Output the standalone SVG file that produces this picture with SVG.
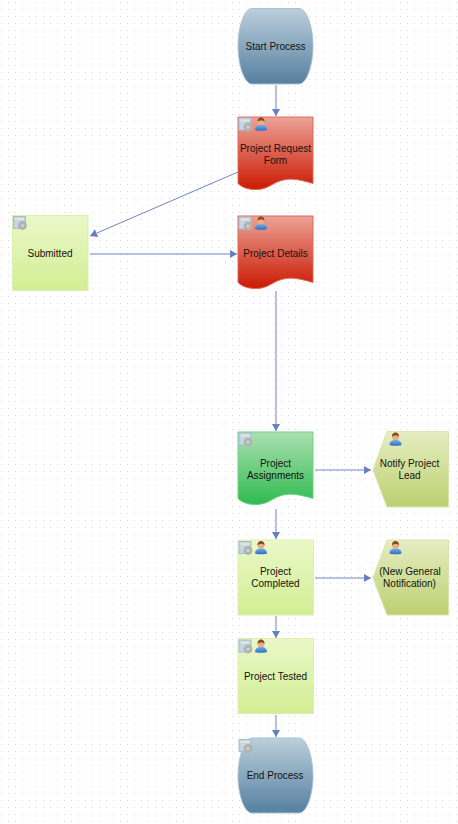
<svg xmlns="http://www.w3.org/2000/svg" width="458" height="824" viewBox="0 0 458 824">
<style>
text{font-family:"Liberation Sans",Arial,sans-serif;font-size:10px;fill:#111;text-anchor:middle}
.c{fill:none;stroke:#6f86c0;stroke-width:1;marker-end:url(#arr)}
</style>
<defs>
<pattern id="grid" width="7" height="7" patternUnits="userSpaceOnUse"><rect x="1" y="2" width="1" height="1" fill="#d9d9d9"/></pattern>
<marker id="arr" markerUnits="userSpaceOnUse" markerWidth="9" markerHeight="10" refX="7.500" refY="4.500" orient="auto"><path d="M0 0.200L7.500 4.500L0 8.800L0.800 4.500Z" fill="#6580c0"/></marker>
<linearGradient id="gB" x1="0" y1="0" x2="0" y2="1"><stop offset="0" stop-color="#bccfdc"/><stop offset="1" stop-color="#55809f"/></linearGradient>
<linearGradient id="gR" x1="0" y1="0" x2="0" y2="1"><stop offset="0" stop-color="#eca397"/><stop offset="1" stop-color="#cb1a02"/></linearGradient>
<linearGradient id="gG" x1="0" y1="0" x2="0" y2="1"><stop offset="0" stop-color="#ace0b0"/><stop offset="1" stop-color="#2fbb50"/></linearGradient>
<linearGradient id="gL" x1="0" y1="0" x2="0" y2="1"><stop offset="0" stop-color="#eaf8c8"/><stop offset="1" stop-color="#d2ee93"/></linearGradient>
<linearGradient id="gO" x1="0" y1="0" x2="0" y2="1"><stop offset="0" stop-color="#e6edc2"/><stop offset="1" stop-color="#bdd070"/></linearGradient>
<linearGradient id="gP" x1="0" y1="0" x2="0" y2="1"><stop offset="0" stop-color="#6eb0ec"/><stop offset="1" stop-color="#2f6cc4"/></linearGradient>
<g id="wave">
<path d="M0 0H75V66.500C62 62.500 54 61.500 48 62.500C34 64.500 32 72.500 18 72.500C10 72.500 4 70.500 0 66.500Z"/>
</g>
<g id="svc">
<rect x="0.500" y="0.500" width="12" height="12" fill="#c5d5e4" stroke="#a3bbd8"/>
<rect x="2" y="2" width="9" height="2" fill="#dfeccb"/>
<circle cx="9.500" cy="9.500" r="4.400" fill="#b2b2b2"/>
<circle cx="9.500" cy="9.500" r="1.600" fill="#d4d4d4"/>
</g>
<g id="usr">
<path d="M0.500 13C0.500 10 2.500 8 6.500 8S12.500 10 12.500 13C12.500 14 0.500 14 0.500 13Z" fill="url(#gP)"/>
<circle cx="6.500" cy="4.800" r="3.500" fill="#e8ad85"/>
<path d="M3 4.800C2.800 1.500 5 0.500 6.500 0.500S10.200 1.500 10 4.800C8.500 3 5 3 3 4.800Z" fill="#8a4a22"/>
</g>
</defs>
<rect width="458" height="824" fill="#fff"/>
<rect width="458" height="824" fill="url(#grid)"/>
<g id="connectors">
<path class="c" d="M276 85V116"/>
<path class="c" d="M238 172L90 236"/>
<path class="c" d="M90 254H237"/>
<path class="c" d="M276 291V431"/>
<path class="c" d="M315 470H371"/>
<path class="c" d="M276 509V539"/>
<path class="c" d="M315 578H371"/>
<path class="c" d="M276 616V638"/>
<path class="c" d="M276 715V737"/>
</g>
<g id="start">
<path d="M252 8.500H299C307 8.500 313 28 313 46S307 84 299 84H252C244 84 238 64 238 46S244 8.500 252 8.500Z" fill="url(#gB)" stroke="#a9c1d6"/>
<text x="275.500" y="50">Start Process</text>
</g>
<g id="request">
<use href="#wave" x="238" y="117" fill="url(#gR)" stroke="#e0695a"/>
<use href="#svc" x="238.500" y="117.500"/><use href="#usr" x="254.500" y="117"/>
<text x="275.500" y="152">Project Request</text>
<text x="275.500" y="164">Form</text>
</g>
<g id="submitted">
<rect x="12.500" y="215.500" width="75.500" height="75" fill="url(#gL)" stroke="#dcefaf"/>
<use href="#svc" x="13" y="216"/>
<text x="50" y="257">Submitted</text>
</g>
<g id="details">
<use href="#wave" x="238" y="216" fill="url(#gR)" stroke="#e0695a"/>
<use href="#svc" x="238.500" y="216.500"/><use href="#usr" x="254.500" y="216"/>
<text x="275.500" y="257">Project Details</text>
</g>
<g id="assignments">
<use href="#wave" x="238" y="432" fill="url(#gG)" stroke="#6fd184"/>
<use href="#svc" x="238.500" y="432.500"/>
<text x="275.500" y="467">Project</text>
<text x="275.500" y="479">Assignments</text>
</g>
<g id="notify">
<path d="M387 431.500H448.500V507H387L373 470Z" fill="url(#gO)" stroke="#d9e5b0"/>
<use href="#usr" x="389" y="432"/>
<text x="409.500" y="467">Notify Project</text>
<text x="409.500" y="479">Lead</text>
</g>
<g id="completed">
<rect x="238" y="540" width="75.500" height="75" fill="url(#gL)" stroke="#dcefaf"/>
<use href="#svc" x="238.500" y="541"/><use href="#usr" x="254.500" y="540.500"/>
<text x="275.500" y="575">Project</text>
<text x="275.500" y="587">Completed</text>
</g>
<g id="general">
<path d="M387 540H448.500V615H387L373 578Z" fill="url(#gO)" stroke="#d9e5b0"/>
<use href="#usr" x="389" y="540.500"/>
<text x="410" y="575">(New General</text>
<text x="409.500" y="587">Notification)</text>
</g>
<g id="tested">
<rect x="238" y="638.500" width="75.500" height="75" fill="url(#gL)" stroke="#dcefaf"/>
<use href="#svc" x="238.500" y="639.500"/><use href="#usr" x="254.500" y="639"/>
<text x="275.500" y="680">Project Tested</text>
</g>
<g id="end">
<path d="M252 738H299C307 738 313 758 313 776S307 813 299 813H252C244 813 238 794 238 776S244 738 252 738Z" fill="url(#gB)" stroke="#a9c1d6"/>
<use href="#svc" x="238.500" y="739"/>
<text x="275" y="779">End Process</text>
</g>
</svg>
